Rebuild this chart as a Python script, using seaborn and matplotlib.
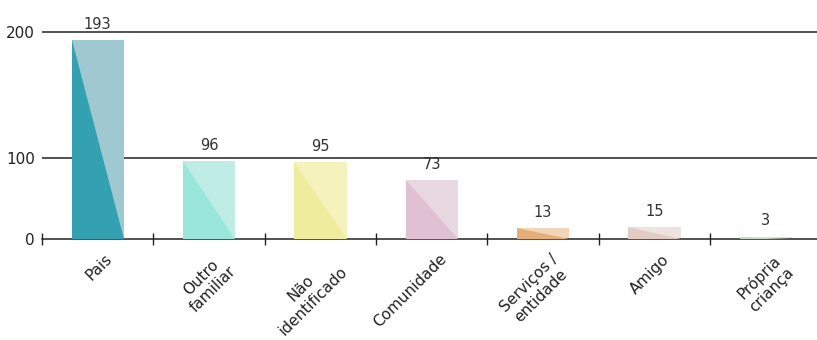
import numpy as np
import pandas as pd
import matplotlib
matplotlib.use('Agg')
import matplotlib.pyplot as plt
from matplotlib.patches import Polygon
import seaborn as sns


categories = ['Pais', 'Outro\nfamiliar', 'Não\nidentificado', 'Comunidade',
              'Serviços /\nentidade', 'Amigo', 'Própria\ncriança']
values = [193, 96, 95, 73, 13, 15, 3]
dark_colors = ['#33A1B1', '#9AE6DA', '#F0EC9E', '#E0C1D4', '#E5AE78', '#E4CCC5', '#C6D8C6']
light_colors = ['#A0C8D1', '#C0ECE6', '#F5F2BD', '#E8D8E0', '#F0D5B8', '#EDE3DF', '#DCE6DA']
yticks = [0, 100, 200]

df = pd.DataFrame({'cat': categories, 'n': values})

sns.set_style('white')
plt.rcParams['font.family'] = ['DejaVu Sans']

# upper half of the axis is stretched in the original
K = 1.56
def fwd(y):
    y = np.asarray(y, dtype=float)
    return np.where(y <= 100, y, 100 + (y - 100) * K)

def inv(y):
    y = np.asarray(y, dtype=float)
    return np.where(y <= 100, y, 100 + (y - 100) / K)

fig = plt.figure(figsize=(8.17, 3.4), dpi=100)
ax = fig.add_axes([0.0514, 0.297, 0.9486, 0.703])

sns.barplot(x='cat', y='n', data=df, hue='cat', palette=light_colors,
            width=0.47, legend=False, saturation=1, linewidth=0, ax=ax)

ax.set_yscale('function', functions=(fwd, inv))

# darker lower-left triangle on each bar
for p, c in zip(ax.patches, dark_colors):
    x0, w, h = p.get_x(), p.get_width(), p.get_height()
    ax.add_patch(Polygon([(x0, h), (x0, 0), (x0 + w, 0)], closed=True,
                         facecolor=c, edgecolor='none', zorder=3))
    p.set_zorder(2)

for i, v in enumerate(values):
    ax.annotate(str(v), (i, v), xytext=(0, 6), textcoords='offset points',
                ha='center', va='bottom', fontsize=10.5, color='#333333')

# category labels, rotated
for i, c in enumerate(categories):
    ax.annotate(c, (i, 0), xycoords=('data', 'axes fraction'),
                xytext=(5, -9), textcoords='offset points',
                rotation=45, ha='right', va='top', rotation_mode='anchor',
                multialignment='center', fontsize=11, color='#222222')

ax.set_ylim(0, 225)
ax.set_xlim(-0.5, 6.46)
ax.set_yticks(yticks)
ax.set_yticklabels([str(t) for t in yticks], fontsize=11, color='#222222')
for t in yticks[1:]:
    ax.axhline(t, color='#222222', lw=1.1, zorder=1)

# ticks between categories
ax.set_xticks(np.arange(-0.5, len(categories) - 1, 1))
ax.set_xticklabels([])
ax.tick_params(axis='x', bottom=True, length=8, direction='inout', width=1, color='#222222')
ax.tick_params(axis='y', length=0, pad=5)

for s in ['top', 'right', 'left']:
    ax.spines[s].set_visible(False)
ax.spines['bottom'].set_color('#222222')
ax.spines['bottom'].set_linewidth(1.1)
ax.set_xlabel('')
ax.set_ylabel('')
ax.patch.set_alpha(0)

fig.savefig('out.png', dpi=100)
